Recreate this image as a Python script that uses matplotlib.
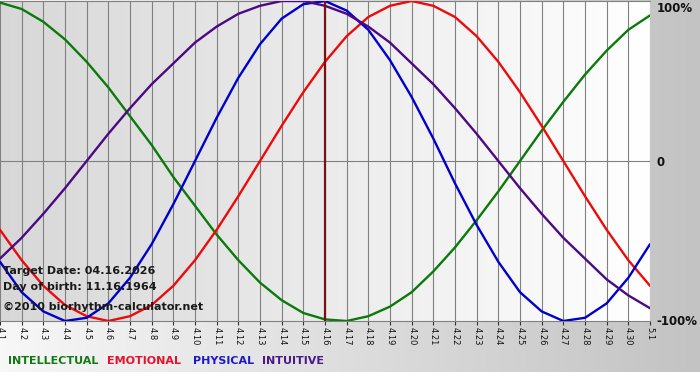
"""
Biorhythm chart for April 2026 (born 11.16.1964)
"""
# IMPORTS
import numpy as np
import matplotlib
matplotlib.use("Agg")
import matplotlib.pyplot as plt
from matplotlib.patches import Rectangle

# VARIABLES
day_labels = ["4.1", "4.2", "4.3", "4.4", "4.5", "4.6", "4.7", "4.8", "4.9", "4.10",
              "4.11", "4.12", "4.13", "4.14", "4.15", "4.16", "4.17", "4.18", "4.19", "4.20",
              "4.21", "4.22", "4.23", "4.24", "4.25", "4.26", "4.27", "4.28", "4.29", "4.30",
              "5.1"]

intellectual = [0.99, 0.95, 0.87, 0.76, 0.62, 0.46, 0.28, 0.10, -0.10, -0.28,
                -0.46, -0.62, -0.76, -0.87, -0.95, -0.99, -1.00, -0.97, -0.91, -0.82,
                -0.69, -0.54, -0.37, -0.19, 0.00, 0.19, 0.37, 0.54, 0.69, 0.82,
                0.91]
emotional = [-0.43, -0.62, -0.78, -0.90, -0.97, -1.00, -0.97, -0.90, -0.78, -0.62,
             -0.43, -0.22, 0.00, 0.22, 0.43, 0.62, 0.78, 0.90, 0.97, 1.00,
             0.97, 0.90, 0.78, 0.62, 0.43, 0.22, 0.00, -0.22, -0.43, -0.62,
             -0.78]
physical = [-0.63, -0.82, -0.94, -1.00, -0.98, -0.89, -0.73, -0.52, -0.27, 0.00,
            0.27, 0.52, 0.73, 0.89, 0.98, 1.00, 0.94, 0.82, 0.63, 0.40,
            0.14, -0.14, -0.40, -0.63, -0.82, -0.94, -1.00, -0.98, -0.89, -0.73,
            -0.52]
intuitive = [-0.61, -0.48, -0.33, -0.17, 0.00, 0.17, 0.33, 0.48, 0.61, 0.74,
             0.84, 0.92, 0.97, 1.00, 1.00, 0.97, 0.92, 0.84, 0.74, 0.61,
             0.48, 0.33, 0.17, 0.00, -0.17, -0.33, -0.48, -0.61, -0.74, -0.84,
             -0.92]

target_label = "4.16"
info_lines = ["Target Date: 04.16.2026", "Day of birth: 11.16.1964",
              "\u00a92010 biorhythm-calculator.net"]

series = [("INTELLECTUAL", intellectual, "#0a7a0a", "#137a13"),
          ("EMOTIONAL", emotional, "#ee0a0a", "#e8112d"),
          ("PHYSICAL", physical, "#0000cc", "#1a1acc"),
          ("INTUITIVE", intuitive, "#4b0a82", "#4b1a8a")]

# EXECUTION
W, H = 700, 380
fig = plt.figure(figsize=(W / 100, H / 100), dpi=100)

# Figure background: white -> grey gradient, white strip at the bottom
bg = fig.add_axes([0, 0, 1, 1])
grad = np.linspace(0.97, 0.765, 256)[None, :]
bg.imshow(np.dstack([grad] * 3), aspect="auto", extent=(0, W, H, 0))
bg.add_patch(Rectangle((0, 372), W, 8, facecolor="white", edgecolor="none"))
bg.set_xlim(0, W)
bg.set_ylim(H, 0)
bg.set_axis_off()

# Plot area
ax = fig.add_axes([0, (H - 321) / H, 650 / W, 320 / H])
x = np.arange(len(day_labels))
ax.set_xlim(0, len(day_labels) - 1)
ax.set_ylim(-1, 1)

pgrad = np.linspace(0.845, 1.0, 256)[None, :]
ax.imshow(np.dstack([pgrad] * 3), aspect="auto",
          extent=(0, len(day_labels) - 1, -1, 1), zorder=0)

for xi in x:
    ax.axvline(xi, color="#808080", lw=0.8, zorder=1)
ax.axhline(0, color="#808080", lw=0.8, zorder=1)

for name, vals, lc, tc in series:
    ax.plot(x, vals, color=lc, lw=1.7, zorder=3, solid_capstyle="round")

ax.axvline(day_labels.index(target_label), color="#7a1010", lw=1.6, zorder=4)

for spine in ["left", "right"]:
    ax.spines[spine].set_visible(False)
for spine in ["top", "bottom"]:
    ax.spines[spine].set_color("#808080")
    ax.spines[spine].set_linewidth(0.8)

ax.set_xticks(x)
ax.set_xticklabels(day_labels, rotation=-90, fontsize=6, color="#111111")
ax.tick_params(axis="x", direction="out", length=3, width=0.8, color="#333333", pad=1)
ax.set_yticks([])

# Right-hand percentage labels
for yv, lab in [(0.955, "100%"), (-0.01, "0"), (-1.005, "-100%")]:
    ax.text(1.01, (yv + 1) / 2, lab, transform=ax.transAxes, fontsize=8.5,
            fontweight="bold", color="#111111", ha="left", va="center", clip_on=False)

# Info text
for i, line in enumerate(info_lines):
    ax.text(0.005, [0.156, 0.105, 0.043][i], line, transform=ax.transAxes, fontsize=8,
            fontweight="bold", color="#1a1a1a", ha="left", va="center", zorder=5)

# Legend
xpos = [8, 107, 193, 262]
for (name, vals, lc, tc), xp in zip(series, xpos):
    fig.text(xp / W, 1 - 361 / H, name, fontsize=8, fontweight="bold", color=tc,
             ha="left", va="center")

# OUTPUT
fig.savefig("out.png", dpi=100)
